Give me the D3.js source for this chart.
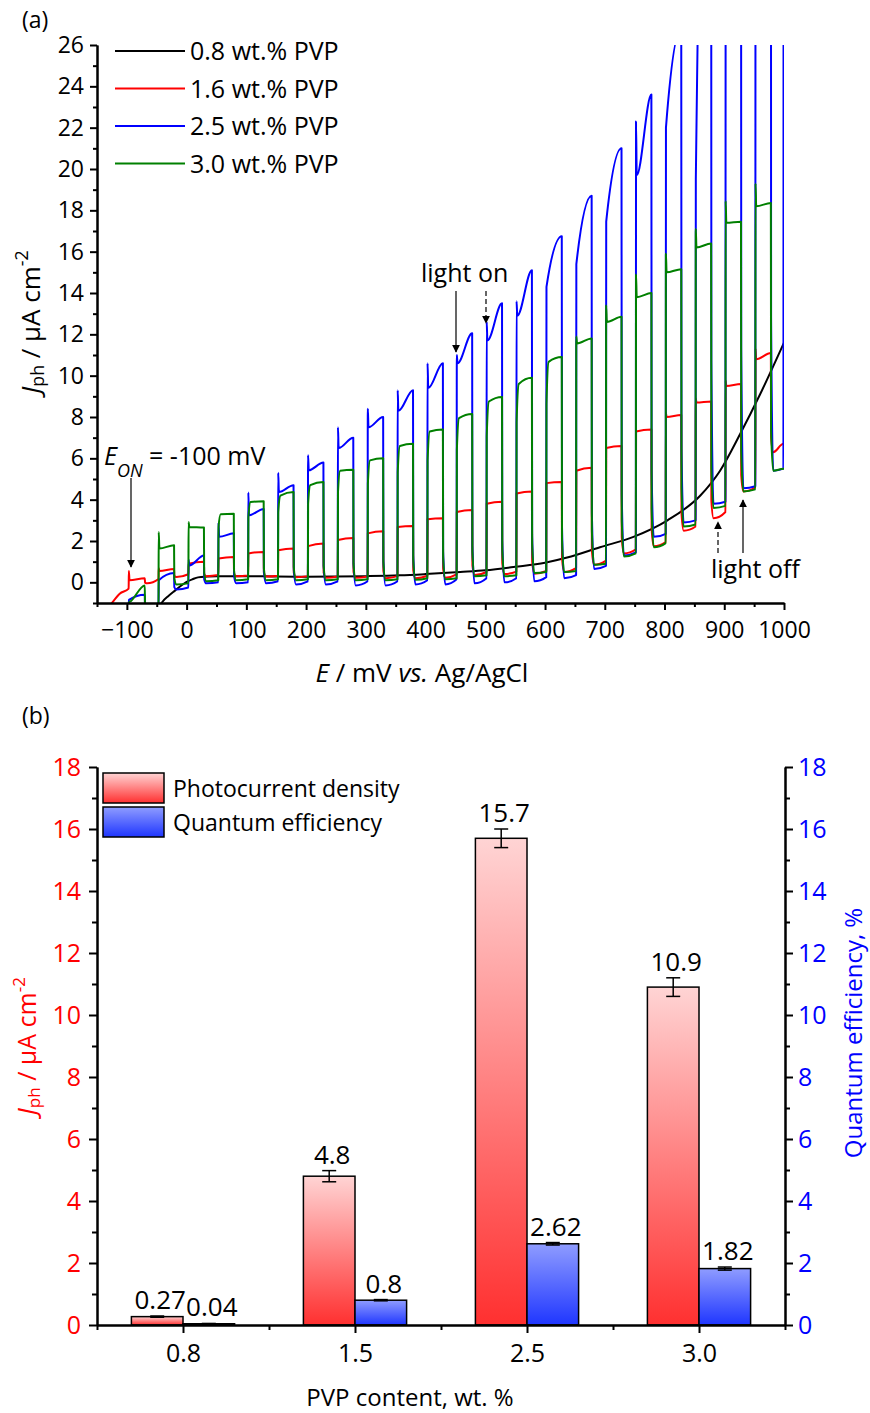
<!DOCTYPE html>
<html>
<head>
<meta charset="utf-8">
<script src="https://cdn.jsdelivr.net/npm/d3@7"></script>
<style>
  body { margin: 0; background: #fff; }
  svg text { font-family: "Open Sans", sans-serif; fill: #000; }
</style>
</head>
<body>
<svg id="chart" width="870" height="1413"></svg>
<script>
// ---------- panel (a): chopped-light LSV ----------
// potentials (mV) where the light is switched on / off
const chopOn  = [-97, -47, 3, 53, 103, 153, 203, 253, 303, 353, 403, 452, 502, 552, 602, 652, 702, 752, 802, 852, 902, 952, 999];
const chopOff = [-70, -21, 29, 79, 129, 179, 229, 279, 329, 379, 429, 478, 528, 578, 628, 678, 728, 778, 828, 878, 928, 978, 1000];

// 0.8 wt.% PVP (dark-like curve)
const blackCurve = [[-55, -1.8], [-42, -1.0], [-30, -0.65], [-19, -0.39], [-10, -0.18], [0, 0.02], [10, 0.15], [19, 0.24],
  [35, 0.28], [50, 0.3], [100, 0.3], [150, 0.28], [200, 0.27], [250, 0.28], [300, 0.3], [357, 0.34], [400, 0.4],
  [458, 0.5], [500, 0.58], [550, 0.75], [600, 0.95], [637, 1.2], [692, 1.7], [748, 2.2], [805, 3.0], [860, 4.2],
  [893, 5.4], [927, 7.2], [960, 9.1], [1000, 11.6]];

// 1.6 wt.% PVP
const redLead   = [[-135, -1.4], [-125, -1.0], [-112, -0.55]];
const redBefore = [-0.3, 0.16, 0.39, 0.35, 0.33, 0.32, 0.3, 0.28, 0.28, 0.3, 0.32, 0.38, 0.5, 0.52, 0.55, 0.7, 1.05, 1.6, 1.95, 2.7, 3.4, 4.6, 6.7];
const redSpike  = [0.55, 0.68, null, null, null, null, null, null, null, null, null, null, null, null, null, null, null, null, 8.2, 8.9, 9.75, 11.3, null];
const redStart  = [0.1, 0.55, 0.9, 1.15, 1.4, 1.55, 1.75, 2.05, 2.37, 2.68, 3.05, 3.4, 3.8, 4.3, 4.8, 5.4, 6.5, 7.3, 8.0, 8.7, 9.5, 10.8, null];
const redEnd    = [0.2, 0.65, 1.0, 1.23, 1.47, 1.64, 1.88, 2.15, 2.47, 2.73, 3.1, 3.5, 3.9, 4.4, 4.86, 5.55, 6.6, 7.4, 8.1, 8.75, 9.6, 11.1, null];
const redTrough = [-0.05, 0.26, 0.3, 0.3, 0.28, 0.25, 0.22, 0.22, 0.2, 0.2, 0.22, 0.35, 0.4, 0.42, 0.5, 0.85, 1.4, 1.75, 2.5, 3.1, 4.4, 6.3, null];

// 2.5 wt.% PVP
const blueLead   = [[-110, -1.6]];
const blueBefore = [-1.3, -1.0, -0.25, 0.0, 0.0, 0.05, 0.05, 0.05, 0.05, 0.05, 0.1, 0.15, 0.2, 0.2, 0.25, 0.35, 0.8, 1.45, 2.35, 3.0, 3.9, 4.65, 5.5];
const blueSpike  = [null, null, 1.1, 2.9, 4.35, 5.3, 6.15, 7.5, 8.4, 9.3, 10.6, 11.0, 12.6, 13.6, null, null, null, 22.3, null, null, null, null, null];
const blueStart  = [-0.85, 0.1, 0.82, 2.2, 3.25, 4.37, 5.42, 6.5, 7.5, 8.3, 9.4, 10.6, 11.7, 12.9, 14.3, 15.4, 17.45, 19.7, 22.0, 19.5, 40, 45, 50];
const blueEnd    = [-0.6, 0.45, 1.3, 2.37, 3.55, 4.7, 5.8, 7.0, 8.0, 9.3, 10.6, 12.05, 13.5, 15.1, 16.75, 18.7, 21.0, 23.6, 26.8, 50, 50, 55, 50];
const blueTrough = [-1.4, -0.35, -0.05, -0.05, -0.05, -0.1, -0.1, -0.15, -0.15, -0.1, -0.1, -0.05, 0.0, 0.05, 0.2, 0.65, 1.3, 2.2, 2.9, 3.8, 4.55, 5.4, null];

// 3.0 wt.% PVP
const greenLead   = [];
const greenBefore = [-1.3, -1.0, -0.05, 0.1, 0.15, 0.15, 0.15, 0.15, 0.15, 0.15, 0.2, 0.2, 0.34, 0.34, 0.5, 0.55, 0.9, 1.4, 1.9, 2.8, 3.7, 4.5, 5.5];
const greenSpike  = [null, 2.43, 2.92, null, null, null, null, null, null, null, null, null, null, null, null, 11.9, 13.4, 14.9, 15.9, 17.1, 18.45, 19.3, null];
const greenStart  = [-0.9, 1.64, 2.68, 3.3, 3.89, 4.2, 4.7, 5.4, 5.9, 6.6, 7.3, 7.95, 8.75, 9.6, 10.67, 11.56, 12.6, 13.8, 15.0, 16.2, 17.4, 18.2, null];
const greenEnd    = [-0.15, 1.79, 2.65, 3.32, 3.92, 4.37, 4.86, 5.45, 6.0, 6.7, 7.4, 8.15, 8.97, 9.9, 10.9, 11.8, 12.85, 14.0, 15.15, 16.4, 17.45, 18.35, null];
const greenTrough = [-1.4, -0.1, 0.05, 0.1, 0.1, 0.1, 0.1, 0.1, 0.1, 0.12, 0.15, 0.3, 0.3, 0.45, 0.5, 0.85, 1.25, 1.7, 2.7, 3.6, 4.4, 5.4, null];

const seriesNames = ["0.8 wt.% PVP", "1.6 wt.% PVP", "2.5 wt.% PVP", "3.0 wt.% PVP"];
const seriesColors = ["#000000", "#ff0000", "#0000ff", "#008000"];

// ---------- panel (b): bars ----------
const pvpContent = ["0.8", "1.5", "2.5", "3.0"];
const photocurrent = [0.27, 4.8, 15.7, 10.9];
const photocurrentErr = [0.02, 0.18, 0.3, 0.3];
const quantumEff = [0.04, 0.8, 2.62, 1.82];
const quantumErr = [0.01, 0.02, 0.04, 0.05];

const svg = d3.select("#chart");
const defs = svg.append("defs");

// build a chopped trace from the per-cycle readings
function buildTrace(lead, before, spike, start, end, trough, rounded) {
  const pts = lead.slice();
  chopOn.forEach((on, i) => {
    const off = chopOff[i];
    pts.push([on, before[i]]);
    if (start[i] == null) { pts.push([off, before[i]]); return; }
    if (spike[i] != null) {
      pts.push([on + 0.3, spike[i]]);
      pts.push([on + 1.5, start[i]]);
    } else if (rounded) {
      pts.push([on + 0.4, before[i] + (start[i] - before[i]) * 0.8]);
      pts.push([on + 4, start[i]]);
    } else {
      pts.push([on + 0.4, start[i]]);
    }
    pts.push([off, end[i]]);
    if (trough[i] != null) {
      pts.push([off + 0.4, trough[i] + (end[i] - trough[i]) * 0.15]);
      pts.push([off + 4, trough[i]]);
    }
  });
  return pts;
}

const minus = d => (d < 0 ? "\u2212" + Math.abs(d) : String(d));

// ================= panel (a) =================
const xA = d3.scaleLinear().domain([-150, 1000]).range([97, 784]);
const yA = d3.scaleLinear().domain([-1, 26]).range([603, 45]);

defs.append("clipPath").attr("id", "clipA").append("rect")
  .attr("x", 97).attr("y", 45).attr("width", 687).attr("height", 558);

const lineA = d3.line().x(d => xA(d[0])).y(d => yA(d[1])).curve(d3.curveMonotoneX);

const traces = [
  blackCurve,
  buildTrace(redLead, redBefore, redSpike, redStart, redEnd, redTrough, false),
  buildTrace(blueLead, blueBefore, blueSpike, blueStart, blueEnd, blueTrough, false),
  buildTrace(greenLead, greenBefore, greenSpike, greenStart, greenEnd, greenTrough, true)
];

svg.append("g").attr("clip-path", "url(#clipA)")
  .selectAll("path").data(traces).enter().append("path")
  .attr("d", lineA)
  .attr("fill", "none")
  .attr("stroke", (d, i) => seriesColors[i])
  .attr("stroke-width", 2)
  .attr("stroke-linejoin", "round");

function styleAxis(g, color, size) {
  g.attr("font-size", size || 23).attr("font-family", "'Open Sans', sans-serif");
  g.selectAll(".domain").attr("stroke", "#000").attr("stroke-width", 2);
  g.selectAll(".tick line").attr("stroke", "#000").attr("stroke-width", 2);
  g.selectAll(".tick text").style("fill", color || "#000");
}

// x axis (a)
svg.append("g").attr("transform", "translate(0,603)")
  .call(d3.axisBottom(xA).tickValues(d3.range(-150, 1001, 100)).tickSize(4).tickSizeOuter(0).tickFormat(""))
  .call(g => styleAxis(g));
svg.append("g").attr("transform", "translate(0,603)")
  .call(d3.axisBottom(xA).tickValues(d3.range(-100, 1001, 100)).tickSize(7).tickSizeOuter(0).tickPadding(12)
    .tickFormat(minus))
  .call(g => styleAxis(g, "#000", 23));

// y axis (a)
svg.append("g").attr("transform", "translate(97,0)")
  .call(d3.axisLeft(yA).tickValues(d3.range(-1, 26, 2)).tickSize(4).tickSizeOuter(0).tickFormat(""))
  .call(g => styleAxis(g));
svg.append("g").attr("transform", "translate(97,0)")
  .call(d3.axisLeft(yA).tickValues(d3.range(0, 27, 2)).tickSize(7).tickSizeOuter(0).tickPadding(6))
  .call(g => styleAxis(g, "#000", 23));

// axis titles (a)
const xTitleA = svg.append("text").attr("x", 422).attr("y", 682)
  .attr("text-anchor", "middle").attr("font-size", 26);
xTitleA.append("tspan").attr("font-style", "italic").text("E");
xTitleA.append("tspan").text(" / mV ");
xTitleA.append("tspan").attr("font-style", "italic").text("vs.");
xTitleA.append("tspan").text(" Ag/AgCl");

function jphTitle(x, y, color, size) {
  const t = svg.append("text").attr("transform", `translate(${x},${y}) rotate(-90)`)
    .attr("text-anchor", "middle").attr("font-size", size).style("fill", color);
  t.append("tspan").attr("font-style", "italic").style("fill", color).text("J");
  t.append("tspan").attr("font-size", size * 0.68).attr("baseline-shift", -4).style("fill", color).text("ph");
  t.append("tspan").style("fill", color).text(" / µA cm");
  t.append("tspan").attr("font-size", size * 0.68).attr("baseline-shift", "super").style("fill", color).text("-2");
}
jphTitle(40, 322, "#000", 26);

svg.append("text").attr("x", 22).attr("y", 28).attr("font-size", 23).text("(a)");

// legend (a)
const legA = svg.append("g");
seriesNames.forEach((name, i) => {
  const cy = 51 + i * 37.5;
  legA.append("line").attr("x1", 115).attr("x2", 185).attr("y1", cy).attr("y2", cy)
    .attr("stroke", seriesColors[i]).attr("stroke-width", 2);
  legA.append("text").attr("x", 190).attr("y", cy + 9).attr("font-size", 25).text(name);
});

// arrows & annotations (a)
const arrowHead = defs.append("marker").attr("id", "arrow").attr("viewBox", "0 0 10 10")
  .attr("refX", 9).attr("refY", 5).attr("markerWidth", 8).attr("markerHeight", 10)
  .attr("markerUnits", "userSpaceOnUse").attr("orient", "auto");
arrowHead.append("path").attr("d", "M0,0 L10,5 L0,10 Z").attr("fill", "#000");

function arrow(x1, y1, x2, y2, dashed) {
  svg.append("line").attr("x1", x1).attr("y1", y1).attr("x2", x2).attr("y2", y2)
    .attr("stroke", "#000").attr("stroke-width", 1.2)
    .attr("stroke-dasharray", dashed ? "5,3" : null)
    .attr("marker-end", "url(#arrow)");
}

const eon = svg.append("text").attr("x", 104).attr("y", 465).attr("font-size", 25);
eon.append("tspan").attr("font-style", "italic").text("E");
eon.append("tspan").attr("font-style", "italic").attr("font-size", 18).attr("baseline-shift", "sub").text("ON");
eon.append("tspan").text(" = -100 mV");
arrow(131, 478, 131, 567, false);

svg.append("text").attr("x", 421).attr("y", 282).attr("font-size", 25).text("light on");
arrow(456, 291, 456, 352, false);
arrow(486, 291, 486, 323, true);

svg.append("text").attr("x", 711).attr("y", 578).attr("font-size", 25).text("light off");
arrow(718, 553, 718, 522, true);
arrow(743, 553, 743, 500, false);

// ================= panel (b) =================
const xB = d3.scaleLinear().domain([-0.5, 3.5]).range([97, 785]);
const yB = d3.scaleLinear().domain([0, 18]).range([1325, 767]);
const barW = 0.3;

function gradient(id, top, bottom) {
  const g = defs.append("linearGradient").attr("id", id)
    .attr("x1", 0).attr("y1", 0).attr("x2", 0).attr("y2", 1);
  g.append("stop").attr("offset", "0%").attr("stop-color", top);
  g.append("stop").attr("offset", "100%").attr("stop-color", bottom);
}
gradient("gradRed", "#ffd4d4", "#ff3030");
gradient("gradBlue", "#8f9cff", "#1f36ff");

svg.append("text").attr("x", 22).attr("y", 724).attr("font-size", 23).text("(b)");

const bars = svg.append("g");
bars.selectAll("rect.jph").data(photocurrent).enter().append("rect")
  .attr("x", (d, i) => xB(i - barW)).attr("width", xB(barW) - xB(0))
  .attr("y", d => yB(d)).attr("height", d => yB(0) - yB(d))
  .attr("fill", "url(#gradRed)").attr("stroke", "#000").attr("stroke-width", 1.5);
bars.selectAll("rect.qe").data(quantumEff).enter().append("rect")
  .attr("x", (d, i) => xB(i)).attr("width", xB(barW) - xB(0))
  .attr("y", d => yB(d)).attr("height", d => yB(0) - yB(d))
  .attr("fill", "url(#gradBlue)").attr("stroke", "#000").attr("stroke-width", 1.5);

function errorBars(values, errs, offset) {
  values.forEach((v, i) => {
    const cx = xB(i + offset);
    const lo = yB(v - errs[i]), hi = yB(v + errs[i]);
    const g = svg.append("g").attr("stroke", "#000").attr("stroke-width", 1.5);
    g.append("line").attr("x1", cx).attr("x2", cx).attr("y1", lo).attr("y2", hi);
    g.append("line").attr("x1", cx - 7).attr("x2", cx + 7).attr("y1", lo).attr("y2", lo);
    g.append("line").attr("x1", cx - 7).attr("x2", cx + 7).attr("y1", hi).attr("y2", hi);
    svg.append("text").attr("x", cx + 3).attr("y", hi - 7).attr("text-anchor", "middle")
      .attr("font-size", 26).text(String(v));
  });
}
errorBars(photocurrent, photocurrentErr, -barW / 2);
errorBars(quantumEff, quantumErr, barW / 2);

// axes (b)
svg.append("g").attr("transform", "translate(0,1325)")
  .call(d3.axisBottom(xB).tickValues(d3.range(-0.5, 3.6, 1)).tickSize(5).tickSizeOuter(0).tickFormat(""))
  .call(g => styleAxis(g));
svg.append("g").attr("transform", "translate(0,1325)")
  .call(d3.axisBottom(xB).tickValues(d3.range(0, 4)).tickSize(8).tickSizeOuter(0).tickPadding(11)
    .tickFormat(i => pvpContent[i]))
  .call(g => styleAxis(g, "#000", 25));

svg.append("g").attr("transform", "translate(97,0)")
  .call(d3.axisLeft(yB).tickValues(d3.range(1, 18, 2)).tickSize(5).tickSizeOuter(0).tickFormat(""))
  .call(g => styleAxis(g));
svg.append("g").attr("transform", "translate(97,0)")
  .call(d3.axisLeft(yB).tickValues(d3.range(0, 19, 2)).tickSize(8).tickSizeOuter(0).tickPadding(8))
  .call(g => styleAxis(g, "#ff0000", 25));

svg.append("g").attr("transform", "translate(785,0)")
  .call(d3.axisRight(yB).tickValues(d3.range(1, 18, 2)).tickSize(5).tickSizeOuter(0).tickFormat(""))
  .call(g => styleAxis(g));
svg.append("g").attr("transform", "translate(785,0)")
  .call(d3.axisRight(yB).tickValues(d3.range(0, 19, 2)).tickSize(8).tickSizeOuter(0).tickPadding(5))
  .call(g => styleAxis(g, "#0000ff", 25));

jphTitle(36, 1046, "#ff0000", 25);
svg.append("text").attr("transform", "translate(862,1033) rotate(-90)")
  .attr("text-anchor", "middle").attr("font-size", 24).style("fill", "#0000ff")
  .text("Quantum efficiency, %");
svg.append("text").attr("x", 410).attr("y", 1406).attr("text-anchor", "middle")
  .attr("font-size", 24).text("PVP content, wt. %");

// legend (b)
const legB = [["Photocurrent density", "url(#gradRed)"], ["Quantum efficiency", "url(#gradBlue)"]];
legB.forEach((d, i) => {
  const y0 = 773 + i * 34;
  svg.append("rect").attr("x", 103).attr("y", y0).attr("width", 61).attr("height", 30)
    .attr("fill", d[1]).attr("stroke", "#000").attr("stroke-width", 1.5);
  svg.append("text").attr("x", 173).attr("y", y0 + 24).attr("font-size", 23).text(d[0]);
});
</script>
</body>
</html>
